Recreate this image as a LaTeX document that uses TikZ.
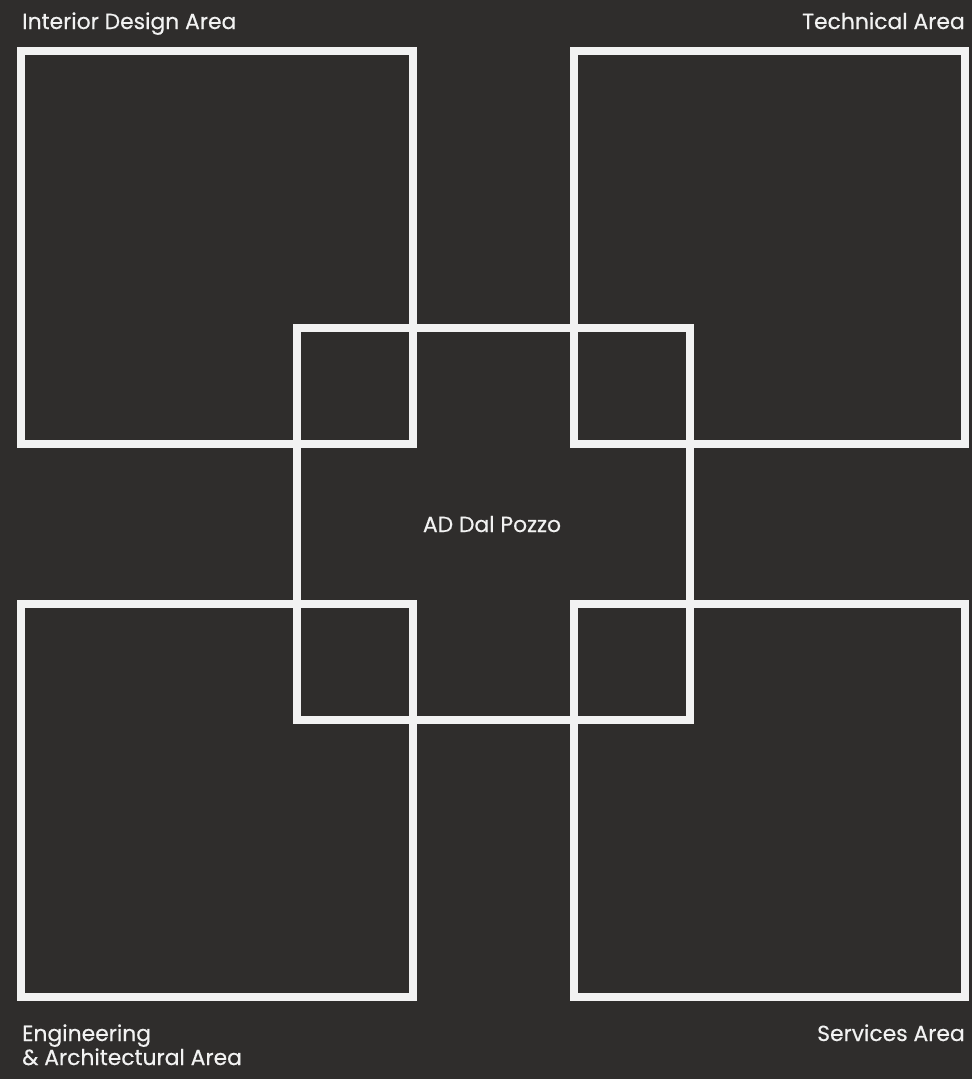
\documentclass[tikz,border=0pt]{standalone}
\usepackage{fontspec}
\setmainfont{Poppins}[FakeBold=0.4]
\definecolor{bgdark}{HTML}{2F2D2C}
\definecolor{framewhite}{HTML}{F2F2F2}
\begin{document}
\begin{tikzpicture}[x=0.75pt,y=-0.75pt,
  area/.style={draw=framewhite,line width=6pt},
  label/.style={text=framewhite,font=\fontsize{16.4}{20}\selectfont,inner sep=0pt}]
\fill[bgdark] (0,0) rectangle (972,1079);
\useasboundingbox (0,0) rectangle (972,1079);
\draw[area] (21,51) rectangle (413,444);
\draw[area] (574,51) rectangle (965,444);
\draw[area] (21,604) rectangle (413,997);
\draw[area] (574,604) rectangle (965,997);
\draw[area] (297,328) rectangle (690,720);
\node[label,anchor=base west] (interior) at (22,29) {Interior Design Area};
\node[label,anchor=base east] (technical) at (965,29) {Technical Area};
\node[label,anchor=base west] (engineering) at (22,1041) {Engineering};
\node[label,anchor=base west] (architectural) at (22,1065) {\& Architectural Area};
\node[label,anchor=base east] (services) at (965,1041) {Services Area};
\node[label,anchor=base] (dalpozzo) at (492,532) {AD Dal Pozzo};
\end{tikzpicture}
\end{document}
